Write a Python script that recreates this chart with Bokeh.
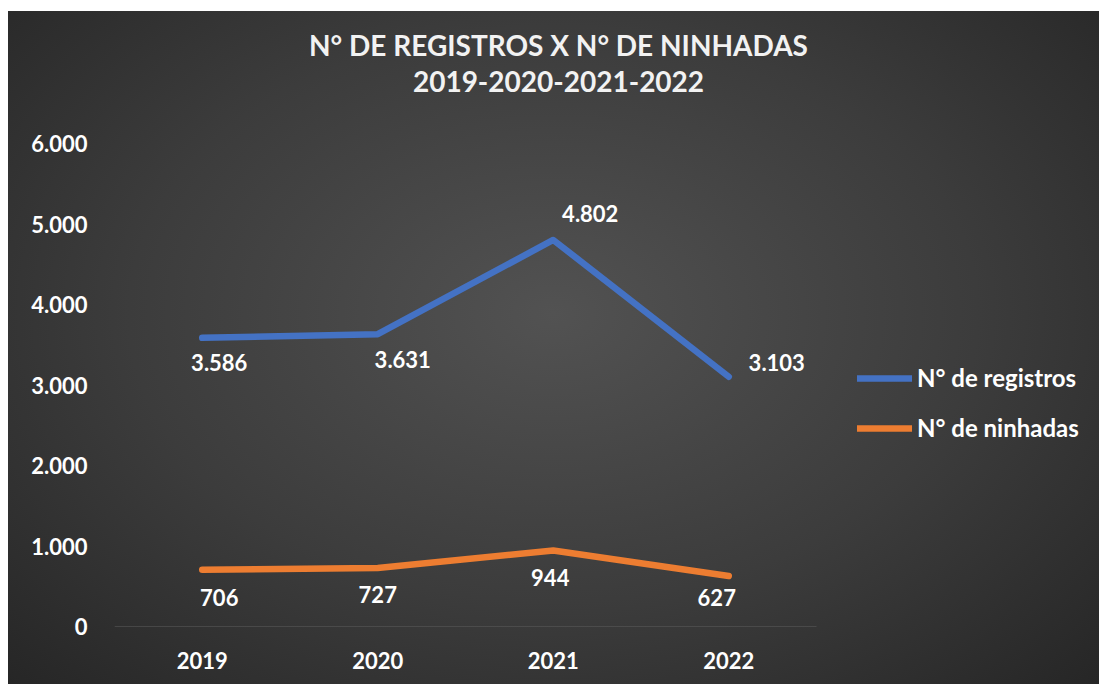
from bokeh.plotting import figure
from bokeh.models import (ColumnDataSource, Range1d, FixedTicker,
                          Legend, LegendItem, Label)
from bokeh.core.properties import value
from bokeh.embed import file_html
from bokeh.resources import INLINE

# ---- data ----
years = ["2019", "2020", "2021", "2022"]
registros = [3586, 3631, 4802, 3103]
ninhadas = [706, 727, 944, 627]
y_ticks = [0, 1000, 2000, 3000, 4000, 5000, 6000]
title_line1 = "N° DE REGISTROS X N° DE NINHADAS"
title_line2 = "2019-2020-2021-2022"
series_names = ["N° de registros", "N° de ninhadas"]

# ---- styles / layout ----
FONT = "Lato"
BLUE = "#4472C4"
ORANGE = "#ED7D31"
TXT = "#FFFFFF"
reg_dx = [17, 25, 37, 48]
reg_dy = [25, 25, -26, -14]
nin_dx = [17, 0, -3, -12]
nin_dy = [28, 27, 27, 21]
W, H = 1091, 673
FRAME_LEFT, FRAME_BOTTOM = 106, 58
PX_PER_CAT = 175.5          # horizontal pixels per category
PX_PER_UNIT = 483 / 6000    # vertical pixels per value unit


def fmt(v):
    return f"{v:,}".replace(",", ".")


xs = list(range(len(years)))
frame_w = W - FRAME_LEFT
frame_h = H - FRAME_BOTTOM

p = figure(width=W, height=H,
           x_range=Range1d(-0.5, -0.5 + frame_w / PX_PER_CAT),
           y_range=Range1d(0, frame_h / PX_PER_UNIT),
           output_backend="svg", toolbar_location=None,
           min_border_left=FRAME_LEFT, min_border_right=0, min_border_top=0,
           min_border_bottom=FRAME_BOTTOM)
p.styles = {"margin-left": "8px", "margin-top": "11px",
            "background": "radial-gradient(ellipse at 50% 45%, #525252 0%, #3c3c3c 55%, #262626 100%)"}
p.background_fill_alpha = 0
p.border_fill_alpha = 0
p.outline_line_color = None
p.xgrid.grid_line_color = None
p.ygrid.grid_line_color = None

p.yaxis.ticker = FixedTicker(ticks=y_ticks)
p.yaxis.major_label_overrides = {t: fmt(t) for t in y_ticks}
p.yaxis.axis_line_color = None
p.yaxis.major_tick_line_color = None
p.yaxis.minor_tick_line_color = None
p.yaxis.major_label_standoff = 21
p.xaxis.ticker = FixedTicker(ticks=xs)
p.xaxis.major_label_overrides = {i: y for i, y in zip(xs, years)}
p.xaxis.axis_line_color = None
p.xaxis.major_tick_line_color = None
p.xaxis.minor_tick_line_color = None
p.xaxis.major_label_standoff = 19
for ax in (p.xaxis, p.yaxis):
    ax.major_label_text_font = FONT
    ax.major_label_text_font_style = "bold"
    ax.major_label_text_font_size = "22px"
    ax.major_label_text_color = TXT

# category baseline (spans the category band only)
p.segment(x0=[xs[0] - 0.5], y0=[0], x1=[xs[-1] + 0.5], y1=[0],
          line_color="#5f5f5f", line_width=1)

src = ColumnDataSource(dict(
    x=xs, reg=registros, nin=ninhadas,
    reg_lbl=[fmt(v) for v in registros], nin_lbl=[fmt(v) for v in ninhadas],
    reg_dx=reg_dx, reg_dy=reg_dy, nin_dx=nin_dx, nin_dy=nin_dy))

r1 = p.line("x", "reg", source=src, line_color=BLUE, line_width=6.5,
            line_cap="round", line_join="round")
r2 = p.line("x", "nin", source=src, line_color=ORANGE, line_width=6.5,
            line_cap="round", line_join="round")

for col, ycol, dx, dy in (("reg_lbl", "reg", "reg_dx", "reg_dy"),
                          ("nin_lbl", "nin", "nin_dx", "nin_dy")):
    p.text("x", ycol, text=col, x_offset=dx, y_offset=dy, source=src,
           text_font=value(FONT), text_font_style="bold", text_font_size="22px",
           text_color=TXT, text_align="center", text_baseline="middle")

for txt, y in ((title_line1, 582), (title_line2, 545)):
    p.add_layout(Label(x=444, y=y, x_units="screen", y_units="screen", text=txt,
                       text_font=FONT, text_font_style="bold", text_font_size="28px",
                       text_color="#F2F2F2", text_align="center",
                       text_baseline="middle"))

legend = Legend(items=[LegendItem(label=series_names[0], renderers=[r1]),
                       LegendItem(label=series_names[1], renderers=[r2])],
                location=(743, 184), orientation="vertical",
                glyph_width=55, glyph_height=22, label_height=22, label_standoff=5,
                spacing=21, padding=0, margin=0,
                label_text_font=FONT, label_text_font_style="bold",
                label_text_font_size="24px", label_text_color=TXT,
                background_fill_alpha=0, border_line_color=None)
p.add_layout(legend)

open("out.html", "w").write(file_html(p, INLINE))
